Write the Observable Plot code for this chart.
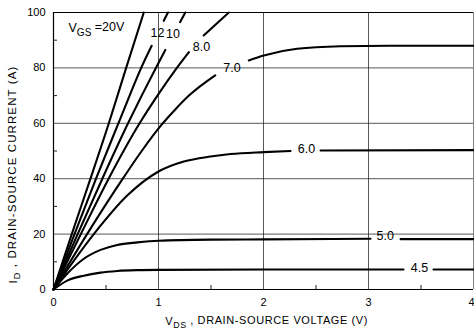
<!DOCTYPE html>
<html><head><meta charset="utf-8">
<script src="https://cdn.jsdelivr.net/npm/d3@7"></script>
<script src="https://cdn.jsdelivr.net/npm/@observablehq/plot@0.6"></script>
<style>
body{margin:0;background:#fff;}
#chart svg{display:block;font-family:"Liberation Sans",Arial,Helvetica,sans-serif;}
</style></head><body><div id="chart"></div>
<script>
// Axis ticks
const xTicks = [0, 1, 2, 3, 4];
const yTicks = [0, 20, 40, 60, 80, 100];
const xGrid = [1, 2, 3];
const yGrid = [20, 40, 60, 80];
const xMinor = [0.5, 1.5, 2.5, 3.5];
const yMinor = [10, 30, 50, 70, 90];

// Output characteristics: [VDS (V), ID (A)], null = gap for curve label
const curve20 = [[0,0],[0.174,20],[0.352,40],[0.527,60],[0.692,80],[0.86,100]];
const curve12 = [[0,0],[0.2,20],[0.405,40],[0.618,60],[0.725,70],[0.835,80],[0.935,88],null,[1.05,97],[1.09,100]];
const curve10 = [[0,0],[0.23,20],[0.465,40],[0.71,60],[0.84,70],[0.975,80],[1.065,86.5],null,[1.205,96.5],[1.255,100]];
const curve8  = [[0,0],[0.26,20],[0.525,40],[0.82,60],[0.99,70],[1.175,80],[1.29,85.7],null,[1.43,91.7],[1.67,100]];
const curve7  = [[0,0],[0.32,20],[0.66,40],[0.84,50],[1.03,59.5],[1.16,65],[1.29,70],[1.54,77.3],null,[1.86,82.7],[2.003,84.5],[2.32,86.9],[2.733,87.8],[3.2,88],[4,88]];
const curve6  = [[0,0],[0.384,20],[0.702,33.9],[1.0,42.6],[1.241,46.2],[1.495,48.0],[1.686,48.9],[2.0,49.6],[2.257,50.0],null,[2.543,50.2],[4,50.3]];
const curve5  = [[0,0],[0.13,5.7],[0.289,11.1],[0.448,14.3],[0.607,16.1],[0.8,17.0],[1.0,17.6],[1.5,18.0],[2.0,18.1],[3.019,18.3],null,[3.305,18.2],[4,18.2]];
const curve45 = [[0,0],[0.13,3.2],[0.289,5.0],[0.448,6.1],[0.607,6.7],[0.8,7.0],[1.0,7.1],[2.0,7.2],[3.333,7.2],null,[3.619,7.2],[4,7.2]];
const curveNames = ["20", "12", "10", "8.0", "7.0", "6.0", "5.0", "4.5"];
const curves = [curve20, curve12, curve10, curve8, curve7, curve6, curve5, curve45];

// Curve labels
const gateLabel = "V_GS =20V";
const gateLabelX = 0.143, gateLabelY = 94.4;
const labelText = ["12", "10", "8.0", "7.0", "6.0", "5.0", "4.5"];
const labelX = [0.99, 1.138, 1.41, 1.70, 2.41, 3.16, 3.486];
const labelY = [92.6, 92.1, 87.7, 80.1, 50.7, 19.3, 7.8];

const xTitle = "V_DS , DRAIN-SOURCE VOLTAGE (V)";
const xTitleX = 2.03, xTitleY = -11.6;
const yTitle = "I_D , DRAIN-SOURCE CURRENT (A)";
const yTitleX = -0.385, yTitleY = 41.5;

const rows = [];
curves.forEach((c, i) => c.forEach(p => rows.push({vgs: curveNames[i], x: p ? p[0] : null, y: p ? p[1] : null})));
const labels = labelText.map((t, i) => ({t, x: labelX[i], y: labelY[i]}));

const chart = Plot.plot({
  width: 474, height: 331,
  marginLeft: 53, marginRight: 1, marginTop: 12, marginBottom: 42,
  x: {domain: [0, 4]},
  y: {domain: [0, 100]},
  style: {fontFamily: '"Liberation Sans", Arial, Helvetica, sans-serif', background: "#fff", color: "#000"},
  marks: [
    Plot.gridX(xGrid, {stroke: "#222", strokeOpacity: 0.85, strokeWidth: 0.9}),
    Plot.gridY(yGrid, {stroke: "#222", strokeOpacity: 0.85, strokeWidth: 0.9}),
    Plot.axisX(xMinor, {tickSize: -4, tickFormat: () => "", stroke: "#222", label: null}),
    Plot.axisY(yMinor, {tickSize: -4, tickFormat: () => "", stroke: "#222", label: null}),
    Plot.axisX(xTicks, {tickSize: 0, tickPadding: 9, fontSize: 11, label: null}),
    Plot.axisY(yTicks, {tickSize: 0, tickPadding: 8, fontSize: 11, label: null}),
    Plot.ruleX([0], {stroke: "#000", strokeWidth: 1.2}),
    Plot.ruleY([0], {stroke: "#000", strokeWidth: 1.2}),
    Plot.ruleY([100], {stroke: "#000", strokeWidth: 1}),
    Plot.ruleX([4], {stroke: "#666", strokeWidth: 0.8}),
    Plot.line(rows, {x: "x", y: "y", z: "vgs", stroke: "#000", strokeWidth: 2.1, curve: "monotone-x"}),
    Plot.text(labels, {x: "x", y: "y", text: "t", fontSize: 12.5, fill: "#000", textAnchor: "middle"}),
    Plot.text([gateLabel], {x: gateLabelX, y: gateLabelY, fontSize: 12.5, fill: "#000", textAnchor: "start"}),
    Plot.text([xTitle], {x: xTitleX, y: xTitleY, fontSize: 11, fill: "#000", className: "xtitle"}),
    Plot.text([yTitle], {x: yTitleX, y: yTitleY, rotate: -90, fontSize: 11.5, fill: "#000", className: "ytitle"})
  ]
});

// Subscripts: "X_SUB rest" -> X, subscript SUB, rest
d3.select(chart).selectAll("text").each(function() {
  const el = d3.select(this);
  const s = this.textContent;
  const m = /^(\w)_(\w+)(.*)$/.exec(s);
  if (!m) return;
  el.selectAll("*").remove();
  el.text(null);
  el.append("tspan").text(m[1]);
  el.append("tspan").attr("font-size", "0.8em").attr("dy", "0.35em").text(m[2]);
  el.append("tspan").attr("dy", "-0.35em").text(m[3]);
});
d3.select(chart).selectAll(".xtitle text").attr("letter-spacing", "0.6px");
d3.select(chart).selectAll(".ytitle text").attr("letter-spacing", "1.1px");
// last x tick label sits at the right edge
d3.select(chart).selectAll("text").filter(function() { return this.textContent === "4" && !this.closest(".ytitle"); })
  .attr("text-anchor", "end").attr("dx", 1);

document.getElementById("chart").append(chart);
</script></body></html>
